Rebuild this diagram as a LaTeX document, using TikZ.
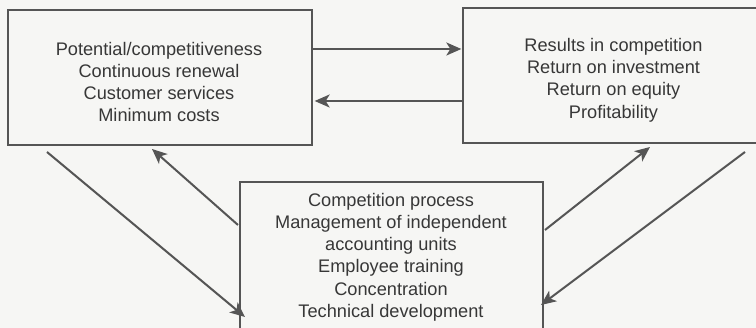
\documentclass[tikz,border=0pt]{standalone}
\usepackage{fontspec}
\setmainfont{Liberation Sans}
\usetikzlibrary{arrows.meta,calc}
\definecolor{ink}{RGB}{85,85,85}
\definecolor{txt}{RGB}{55,55,55}
\definecolor{paper}{RGB}{246,246,244}
\tikzset{
  box/.style={draw=ink, line width=1.3pt, rectangle, inner sep=0pt},
  lbl/.style={text=txt, align=center, font=\fontsize{18.2}{22.2}\selectfont, inner sep=0pt},
  arr/.style={draw=ink, line width=2pt, -{Stealth[length=15pt,width=13pt,inset=4pt]}},
}
\begin{document}
\begin{tikzpicture}[x=1pt,y=-1pt]
\fill[paper] (0,0) rectangle (756,328);
\useasboundingbox (0,0) rectangle (756,328);
\clip (0,0) rectangle (756,328);
% boxes
\node[box, minimum width=304pt, minimum height=135pt] (L) at (160,77.5) {};
\node[box, minimum width=300pt, minimum height=135pt] (R) at (613,75.5) {};
\node[box, minimum width=303pt, minimum height=156pt] (B) at (391.5,260) {};
% texts
\node[lbl] (Lt) at (159,82) {Potential/competitiveness\\Continuous renewal\\Customer services\\Minimum costs};
\node[lbl] (Rt) at (613.5,80) {Results in competition\\Return on investment\\Return on equity\\Profitability};
\node[lbl] (Bt) at (391,257) {Competition process\\Management of independent\\accounting units\\Employee training\\Concentration\\Technical development};
% connector end points
\coordinate (a1) at (0,49);
\coordinate (a2) at (0,101);
\coordinate (p3) at (238,225);
\coordinate (q3) at (152,149);
\coordinate (p4) at (47,152);
\coordinate (q4) at (245,317);
\coordinate (p5) at (545,230);
\coordinate (q5) at (650,147);
\coordinate (p6) at (745,152);
\coordinate (q6) at (541,305);
% connectors
\draw[arr] (L.east |- a1) -- ([xshift=-1pt]R.west |- a1);
\draw[arr] (R.west |- a2) -- ([xshift=2pt]L.east |- a2);
\draw[arr] (p3) -- (q3);
\draw[arr] (p4) -- (q4);
\draw[arr] (p5) -- (q5);
\draw[arr] (p6) -- (q6);
\end{tikzpicture}
\end{document}
